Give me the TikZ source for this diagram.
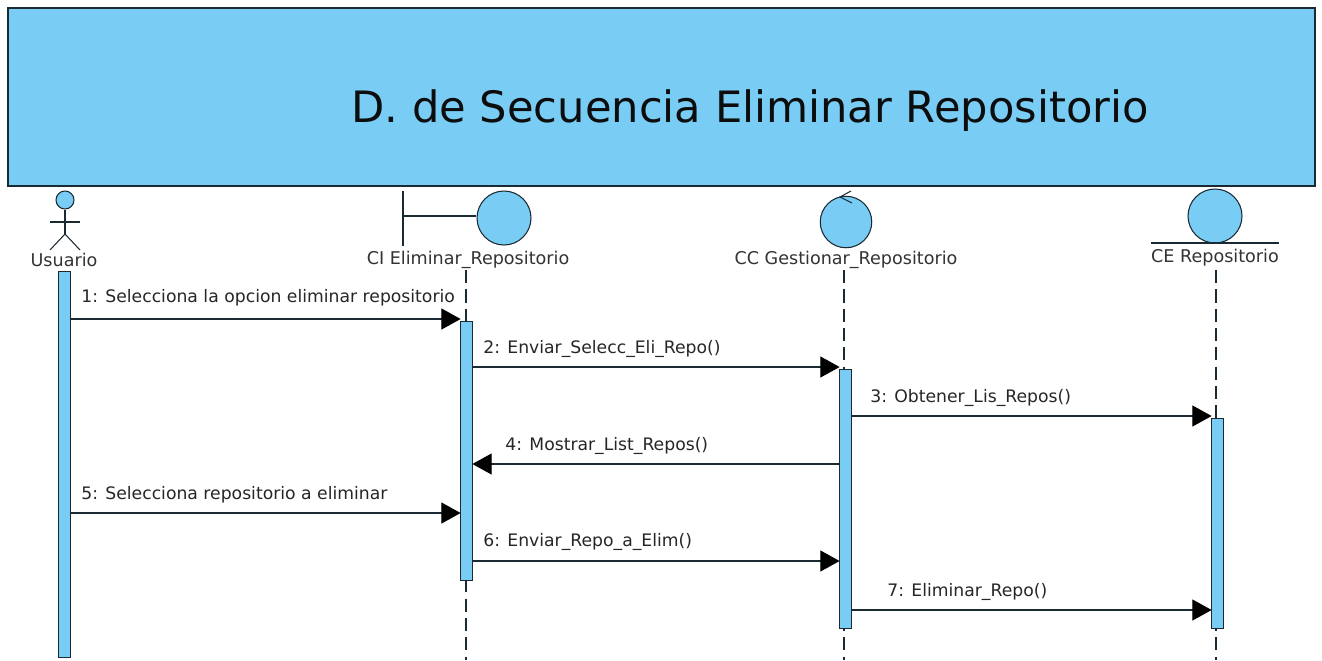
\documentclass[tikz,border=0pt]{standalone}
\usepackage{fontspec}
\setmainfont{DejaVu Sans}
\usepackage{xcolor}
\usetikzlibrary{arrows.meta, positioning, calc}
\definecolor{umlblue}{HTML}{79CDF5}
\definecolor{umlline}{HTML}{1A2A33}
\tikzset{
  lifebar/.style={draw=umlline, fill=umlblue, line width=0.6pt, minimum width=0.25cm, inner sep=0pt, anchor=north},
  lifeline/.style={draw=umlline, line width=0.6pt, dash pattern=on 7.5pt off 3.5pt},
  umlcircle/.style={circle, draw=umlline, fill=umlblue, line width=0.6pt, inner sep=0pt},
  message/.style={draw=umlline, line width=0.6pt, -{Triangle[length=11pt,width=12pt,color=black]}, shorten >=-0.5pt},
  msglabel/.style={anchor=west, inner sep=0pt, font=\fontsize{9.8}{12}\selectfont, text=black!85},
  objlabel/.style={inner sep=0pt, font=\fontsize{10}{12}\selectfont, text=black!80},
  stroke/.style={draw=umlline, line width=0.6pt}
}
\begin{document}
\begin{tikzpicture}[x=0.02cm, y=-0.02cm]
  \useasboundingbox (0,0) rectangle (1322,660);
  % banner
  \node[draw=umlline, fill=umlblue, line width=0.8pt, minimum width=26.14cm, minimum height=3.56cm, inner sep=0pt] (banner) at (661.5,97) {};
  \node[inner sep=0pt, font=\fontsize{24.6}{30}\selectfont, text=black!95] (title) at (750,111) {D. de Secuencia Eliminar Repositorio};
  % actor
  \node[umlcircle, minimum size=0.36cm] (head) at (65,200) {};
  \coordinate (hip) at (65,234);
  \coordinate (armL) at (50,222);
  \coordinate (armR) at (80,222);
  \coordinate (footL) at (50,250);
  \coordinate (footR) at (80,250);
  \draw[stroke] (head.south) -- (hip);
  \draw[stroke] (armL) -- (armR);
  \draw[stroke] (footL) -- (hip) -- (footR);
  \node[objlabel] (usuario) at (64,260) {Usuario};
  % boundary
  \node[umlcircle, minimum size=1.08cm] (bnd) at (504,218) {};
  \coordinate (bndT) at (403,191);
  \coordinate (bndB) at (403,246);
  \coordinate (bndM) at (403,216);
  \draw[stroke] (bndT) -- (bndB);
  \draw[stroke] (bndM) -- (bnd.west |- bndM);
  \node[objlabel] (ci) at (468,260) {CI Eliminar\_Repositorio};
  % control
  \node[umlcircle, minimum size=1.03cm] (ctrl) at (846,222) {};
  \coordinate (ctrlA) at (851,191);
  \coordinate (ctrlB) at (840,197);
  \coordinate (ctrlC) at (852,203);
  \draw[stroke] (ctrlA) -- (ctrlB) -- (ctrlC);
  \node[objlabel] (cc) at (846,260) {CC Gestionar\_Repositorio};
  % entity
  \node[umlcircle, minimum size=1.08cm] (ent) at (1215,216) {};
  \coordinate (entL) at (1151,243);
  \coordinate (entR) at (1279,243);
  \draw[stroke] (entL) -- (entR);
  \node[objlabel] (ce) at (1215,258) {CE Repositorio};
  % lifelines
  \coordinate (l1) at (466,270);
  \coordinate (l1e) at (466,660);
  \coordinate (l2) at (844,270);
  \coordinate (l2e) at (844,660);
  \coordinate (l3) at (1216,270);
  \coordinate (l3e) at (1216,660);
  \draw[lifeline] (l1) -- (l1e);
  \draw[lifeline] (l2) -- (l2e);
  \draw[lifeline] (l3) -- (l3e);
  % activation bars
  \node[lifebar, minimum height=7.72cm] (barU) at (64.5,271) {};
  \node[lifebar, minimum height=5.18cm] (barI) at (466.5,321) {};
  \node[lifebar, minimum height=5.18cm] (barC) at (845.5,369) {};
  \node[lifebar, minimum height=4.2cm] (barE) at (1217.5,418) {};
  % messages
  \draw[message] ($(barU.north east)+(0,48)$) coordinate (m1a) -- (m1a -| barI.west);
  \draw[message] ($(barI.north east)+(0,46)$) coordinate (m2a) -- (m2a -| barC.west);
  \draw[message] ($(barC.north east)+(0,47)$) coordinate (m3a) -- (m3a -| barE.west);
  \draw[message] ($(barC.north west)+(0,95)$) coordinate (m4a) -- (m4a -| barI.east);
  \draw[message] ($(barU.north east)+(0,242)$) coordinate (m5a) -- (m5a -| barI.west);
  \draw[message] ($(barI.north east)+(0,240)$) coordinate (m6a) -- (m6a -| barC.west);
  \draw[message] ($(barC.north east)+(0,241)$) coordinate (m7a) -- (m7a -| barE.west);
  % message labels
  \node[msglabel] (t1) at (81,298) {1: Selecciona la opcion eliminar repositorio};
  \node[msglabel] (t2) at (483,349) {2: Enviar\_Selecc\_Eli\_Repo()};
  \node[msglabel] (t3) at (870,398) {3: Obtener\_Lis\_Repos()};
  \node[msglabel] (t4) at (505,446) {4: Mostrar\_List\_Repos()};
  \node[msglabel] (t5) at (81,495) {5: Selecciona repositorio a eliminar};
  \node[msglabel] (t6) at (483,542) {6: Enviar\_Repo\_a\_Elim()};
  \node[msglabel] (t7) at (887,592) {7: Eliminar\_Repo()};
\end{tikzpicture}
\end{document}
